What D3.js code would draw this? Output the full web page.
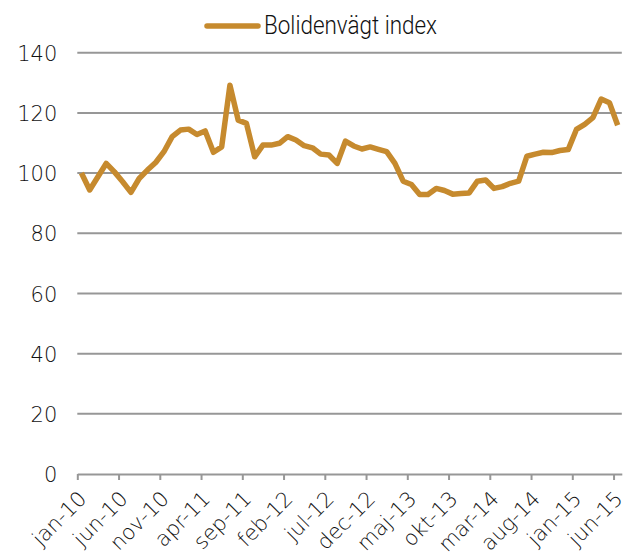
<!DOCTYPE html>
<html>
<head>
<meta charset="utf-8">
<script src="https://cdn.jsdelivr.net/npm/d3@7"></script>
<style>
  body { margin: 0; background: #fff; }
  .tick-label { font-family: "DejaVu Sans", sans-serif; font-weight: 300; font-size: 21px; fill: #111; }
  .legend-text { font-family: Roboto, "Liberation Sans", sans-serif; font-weight: 300; font-size: 25px; fill: #111; }
</style>
</head>
<body>
<div class="chart"></div>
<script>
const svgWidth = 627;
const svgHeight = 555;

const margin = {
  top: 52.7,
  right: 5.2,
  bottom: 81,
  left: 77.3
};

const width = svgWidth - margin.left - margin.right;
const height = svgHeight - margin.top - margin.bottom;

// month names used on the category axis
const monthNames = ["jan", "feb", "mar", "apr", "maj", "jun", "jul", "aug", "sep", "okt", "nov", "dec"];

// first month is jan-10, one value per month up to jun-15
const startYear = 10;

// Bolidenvägt index
const indexValues = [
  100, 94.4, 98.8, 103.2, 100.4, 97.1, 93.6, 98.2, 101, 103.5,
  107.1, 112.1, 114.3, 114.6, 112.8, 114, 106.9, 108.7, 129.2, 117.6,
  116.5, 105.4, 109.3, 109.3, 109.9, 112.1, 111, 109.1, 108.4, 106.3,
  106, 103.2, 110.6, 109, 108, 108.7, 107.9, 107.1, 103.2, 97.3,
  96.2, 92.9, 92.9, 94.9, 94.2, 93, 93.2, 93.4, 97.3, 97.7,
  94.9, 95.5, 96.6, 97.3, 105.6, 106.3, 106.9, 106.8, 107.5, 107.8,
  114.5, 116.2, 118.4, 124.6, 123.4, 115.9
];

const yTicks = [0, 20, 40, 60, 80, 100, 120, 140];
const xTickEvery = 5;
const seriesName = "Bolidenvägt index";
const lineColor = "#c68a2e";

function monthLabel(i) {
  const y = startYear + Math.floor(i / 12);
  return `${monthNames[i % 12]}-${y}`;
}

const svg = d3.select(".chart")
  .append("svg")
  .attr("width", svgWidth)
  .attr("height", svgHeight);

const chartGroup = svg.append("g")
  .attr("transform", `translate(${margin.left}, ${margin.top})`);

// category index scale: ticks sit on category boundaries, points in the middle
const xScale = d3.scaleLinear()
  .domain([0, indexValues.length])
  .range([0, width]);

const yScale = d3.scaleLinear()
  .domain([0, 140])
  .range([height, 0]);

// gridlines (0 line is drawn with the x axis)
chartGroup.append("g")
  .selectAll("line")
  .data(yTicks.filter(d => d > 0))
  .enter()
  .append("line")
  .attr("x1", 0)
  .attr("x2", width)
  .attr("y1", d => yScale(d))
  .attr("y2", d => yScale(d))
  .attr("stroke", "#979797")
  .attr("stroke-width", 2);

// y labels
const leftAxis = d3.axisLeft(yScale)
  .tickValues(yTicks)
  .tickSize(0)
  .tickPadding(20);

const yAxis = chartGroup.append("g").call(leftAxis);
yAxis.select(".domain").remove();
yAxis.selectAll("text")
  .attr("class", "tick-label")
  .attr("font-family", null)
  .attr("font-size", null)
  .attr("fill", null)
  .attr("dy", "0.36em");

// x axis
const xTickValues = d3.range(0, indexValues.length, xTickEvery);
const bottomAxis = d3.axisBottom(xScale)
  .tickValues(xTickValues)
  .tickSizeInner(6)
  .tickSizeOuter(0)
  .tickFormat(d => monthLabel(d));

const xAxis = chartGroup.append("g")
  .attr("transform", `translate(0, ${height})`)
  .call(bottomAxis);

xAxis.select(".domain").attr("stroke", "#979797").attr("stroke-width", 2);
xAxis.selectAll(".tick line").attr("stroke", "#979797").attr("stroke-width", 2);
xAxis.selectAll("text")
  .attr("class", "tick-label")
  .attr("font-family", null)
  .attr("font-size", null)
  .attr("fill", null)
  .attr("text-anchor", "end")
  .attr("dy", null)
  .attr("y", 0)
  .attr("transform", "translate(10, 26) rotate(-45)");

// the line
const line = d3.line()
  .x((d, i) => xScale(i + 0.5))
  .y(d => yScale(d));

chartGroup.append("path")
  .datum(indexValues)
  .attr("d", line)
  .attr("fill", "none")
  .attr("stroke", lineColor)
  .attr("stroke-width", 5.5)
  .attr("stroke-linejoin", "round");

// legend
const legend = svg.append("g")
  .attr("transform", "translate(205, 26)");

legend.append("line")
  .attr("x1", 2)
  .attr("x2", 53)
  .attr("y1", 0)
  .attr("y2", 0)
  .attr("stroke", lineColor)
  .attr("stroke-width", 5.5)
  .attr("stroke-linecap", "round");

legend.append("text")
  .attr("class", "legend-text")
  .attr("x", 59)
  .attr("y", 8)
  .attr("textLength", 173)
  .attr("lengthAdjust", "spacingAndGlyphs")
  .text(seriesName);
</script>
</body>
</html>
